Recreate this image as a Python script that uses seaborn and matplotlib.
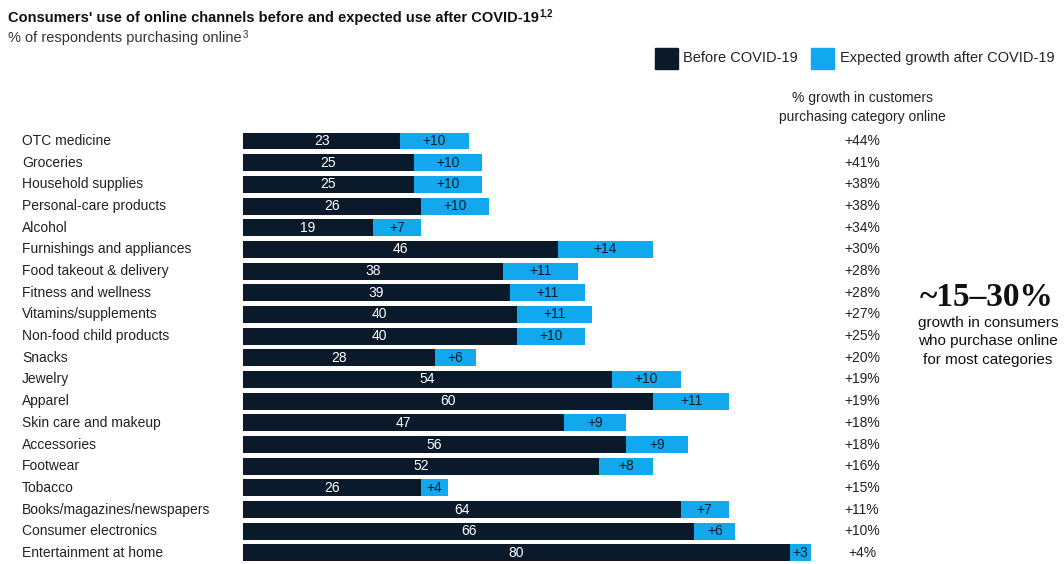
import matplotlib
matplotlib.use("Agg")
import matplotlib.pyplot as plt
import seaborn as sns
import pandas as pd
from matplotlib.patches import Rectangle

categories = [
    "OTC medicine", "Groceries", "Household supplies", "Personal-care products",
    "Alcohol", "Furnishings and appliances", "Food takeout & delivery",
    "Fitness and wellness", "Vitamins/supplements", "Non-food child products",
    "Snacks", "Jewelry", "Apparel", "Skin care and makeup", "Accessories",
    "Footwear", "Tobacco", "Books/magazines/newspapers", "Consumer electronics",
    "Entertainment at home",
]
before = [23, 25, 25, 26, 19, 46, 38, 39, 40, 40, 28, 54, 60, 47, 56, 52, 26, 64, 66, 80]
growth = [10, 10, 10, 10, 7, 14, 11, 11, 11, 10, 6, 10, 11, 9, 9, 8, 4, 7, 6, 3]
pct_growth = ["+44%", "+41%", "+38%", "+38%", "+34%", "+30%", "+28%", "+28%", "+27%",
              "+25%", "+20%", "+19%", "+19%", "+18%", "+18%", "+16%", "+15%", "+11%",
              "+10%", "+4%"]

DARK = "#0b1a2a"
LIGHT = "#12a8ee"

sns.set_theme(style="white")
plt.rcParams["font.family"] = ["Liberation Sans", "DejaVu Sans"]

df = pd.DataFrame({
    "category": categories,
    "before": before,
    "total": [b + g for b, g in zip(before, growth)],
})

fig = plt.figure(figsize=(10.64, 5.64), dpi=100)
ax = fig.add_axes([243 / 1064, 0.0004, 684 / 1064, 433.6 / 564])

sns.barplot(data=df, y="category", x="total", color=LIGHT, orient="h",
            width=0.78, saturation=1, linewidth=0, ax=ax)
sns.barplot(data=df, y="category", x="before", color=DARK, orient="h",
            width=0.78, saturation=1, linewidth=0, ax=ax)

ax.set_xlim(0, 100)
ax.set_ylim(19.5, -0.5)
ax.set_xlabel("")
ax.set_ylabel("")
ax.set_xticks([])
ax.set_yticks([])
for s in ax.spines.values():
    s.set_visible(False)

for i, (b, g) in enumerate(zip(before, growth)):
    ax.text(b / 2, i, str(b), color="white", ha="center", va="center", fontsize=10)
    ax.text(b + g / 2, i, f"+{g}", color=DARK, ha="center", va="center", fontsize=10)

# category labels and right column
for i, (c, p) in enumerate(zip(categories, pct_growth)):
    y = 1 - (141 + i * 21.68) / 564
    fig.text(22 / 1064, y, c, ha="left", va="center", fontsize=10, color="#222222")
    fig.text(862 / 1064, y, p, ha="center", va="center", fontsize=10, color="#222222")

fig.text(862 / 1064, 1 - 98 / 564, "% growth in customers", ha="center", va="center",
         fontsize=10, color="#222222")
fig.text(862 / 1064, 1 - 117 / 564, "purchasing category online", ha="center", va="center",
         fontsize=10, color="#222222")

# titles with small superscripts
renderer = fig.canvas.get_renderer()
t1 = fig.text(8 / 1064, 1 - 18 / 564,
              "Consumers' use of online channels before and expected use after COVID-19",
              ha="left", va="center", fontsize=10.5, fontweight="bold", color="#111111")
bb = t1.get_window_extent(renderer)
fig.text(bb.x1 / 1064 + 1 / 1064, 1 - 14 / 564, "1,2", ha="left", va="center",
         fontsize=7, fontweight="bold", color="#111111")
t2 = fig.text(8 / 1064, 1 - 38 / 564, "% of respondents purchasing online",
              ha="left", va="center", fontsize=10.5, color="#333333")
bb = t2.get_window_extent(renderer)
fig.text(bb.x1 / 1064 + 1 / 1064, 1 - 35 / 564, "3", ha="left", va="center",
         fontsize=7, color="#333333")

# legend
fig.patches.append(Rectangle((655 / 1064, 1 - 69 / 564), 23 / 1064, 21 / 564,
                             transform=fig.transFigure, color=DARK))
fig.text(683 / 1064, 1 - 58 / 564, "Before COVID-19", ha="left", va="center",
         fontsize=10.5, color="#222222")
fig.patches.append(Rectangle((811 / 1064, 1 - 69 / 564), 23 / 1064, 21 / 564,
                             transform=fig.transFigure, color=LIGHT))
fig.text(840 / 1064, 1 - 58 / 564, "Expected growth after COVID-19", ha="left", va="center",
         fontsize=10.5, color="#222222")

# callout
fig.text(987 / 1064, 1 - 298 / 564, "~15\u201330%", ha="center", va="center",
         fontsize=24, fontweight="bold", family=["Liberation Serif", "DejaVu Serif"],
         color="#111111")
for k, line in enumerate(["growth in consumers", "who purchase online", "for most categories"]):
    fig.text(988 / 1064, 1 - (323 + k * 18.5) / 564, line, ha="center", va="center",
             fontsize=11, color="#111111")

fig.savefig("out.png", dpi=100)
